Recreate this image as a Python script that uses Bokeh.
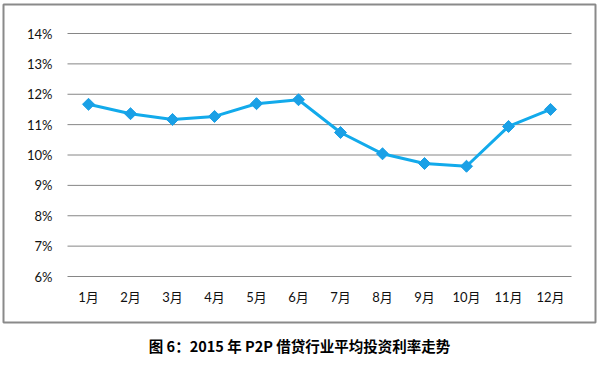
import math
from bokeh.plotting import figure
from bokeh.models import Range1d, Title
from bokeh.embed import file_html
from bokeh.resources import INLINE

months = ["1月", "2月", "3月", "4月", "5月", "6月", "7月", "8月", "9月", "10月", "11月", "12月"]
rates = [11.67, 11.36, 11.17, 11.27, 11.69, 11.82, 10.74, 10.04, 9.72, 9.63, 10.94, 11.50]
y_ticks = [6, 7, 8, 9, 10, 11, 12, 13, 14]
y_labels = ["6%", "7%", "8%", "9%", "10%", "11%", "12%", "13%", "14%"]
caption = "图 6：2015 年 P2P 借贷行业平均投资利率走势"

# category slots: month i occupies [i, i+1], centre at i + 0.5
xs = [i + 0.5 for i in range(len(months))]
n = len(months)

# frame = outer bordered box of the chart
p = figure(width=598, height=366, x_range=Range1d(-1.524, 12.571),
           y_range=Range1d(4.486, 14.955), output_backend="svg", toolbar_location=None,
           min_border_left=3, min_border_right=3, min_border_top=4, min_border_bottom=44)
p.axis.visible = False
p.grid.visible = False
p.outline_line_color = "#8A8A8A"
p.outline_line_width = 2
p.background_fill_color = "white"

# horizontal gridlines
p.segment(x0=[0] * len(y_ticks), x1=[n] * len(y_ticks), y0=y_ticks, y1=y_ticks,
          line_color="#868686", line_width=1)

# y tick labels
p.text(x=[0] * len(y_ticks), y=y_ticks, text=y_labels, x_offset=-15,
       text_align="right", text_baseline="middle", text_font={"value": "Lato"},
       text_font_size="13px", text_color="#111111")

# x tick labels
p.text(x=xs, y=[y_ticks[0]] * n, text=months, y_offset=20,
       text_align="center", text_baseline="middle", text_font={"value": "Lato, Noto Sans CJK SC"},
       text_font_size="13px", text_color="#111111")

p.line(xs, rates, line_color="#12AAEB", line_width=3)
p.scatter(xs, rates, marker="square", angle=math.pi / 4, size=8.5,
          fill_color="#1AA0E6", line_color="#1AA0E6", line_width=1)

p.add_layout(Title(text=caption, align="center", text_font="Noto Sans CJK SC",
                   text_font_size="14.5px", text_font_style="bold", text_color="#000000",
                   standoff=21), "below")

open("out.html", "w").write(file_html(p, INLINE))
